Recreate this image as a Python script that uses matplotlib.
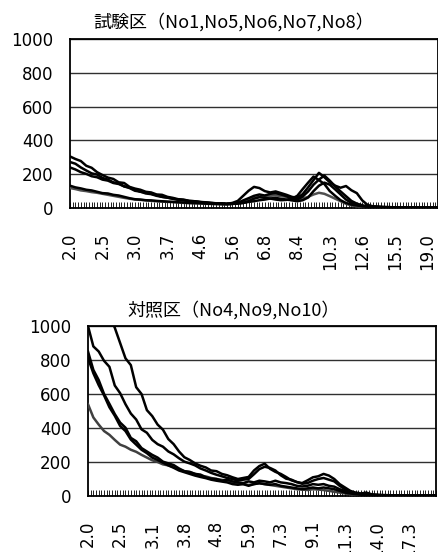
import numpy as np
import matplotlib
matplotlib.use('Agg')
import matplotlib.pyplot as plt
from matplotlib.ticker import MultipleLocator

plt.rcParams['font.family'] = ['DejaVu Sans', 'Noto Sans CJK JP']

## 試験区 (top chart)
top_title = '試験区（No1,No5,No6,No7,No8）'
top_labels = ['2.0', '2.5', '3.0', '3.7', '4.6', '5.6', '6.8', '8.4', '10.3', '12.6', '15.5', '19.0']

t1 = [305, 290, 278, 250, 238, 212, 195, 180, 172, 152, 148, 125, 115, 108, 96, 92, 80, 78, 66, 60,
      52, 50, 42, 40, 36, 34, 29, 28, 25, 24, 25, 28, 30, 36, 40, 46, 50, 56, 50, 46,
      48, 56, 72, 112, 150, 186, 165, 142, 100, 72, 46, 30, 20, 15, 10, 8, 7, 6, 5, 5,
      4, 4, 3, 3, 3, 2, 2, 2, 2]
t2 = [272, 262, 240, 222, 205, 198, 178, 168, 152, 146, 128, 118, 102, 97, 86, 82, 72, 66, 61, 56,
      48, 46, 40, 38, 35, 31, 30, 27, 28, 25,
      30, 42, 72, 102, 125, 118, 100, 92, 98, 88, 78, 66, 60, 82, 122, 165, 208, 182, 152, 132,
      120, 130, 105, 88, 45, 18, 10, 8, 6, 5, 4, 3, 3, 3, 2, 2, 2, 2, 2]
t3 = [240, 228, 212, 202, 188, 182, 168, 162, 148, 142, 128, 122, 108, 96, 92, 84, 76, 66, 62, 54,
      50, 46, 42, 40, 35, 33, 30, 28, 26, 25,
      28, 30, 45, 58, 72, 80, 74, 84, 88, 80, 70, 56, 50, 68, 98, 138, 168, 192, 162, 128,
      98, 70, 42, 26, 16, 10, 7, 6, 5, 4, 4, 3, 3, 2, 2, 2, 2, 2, 2]
t4 = [132, 122, 116, 108, 104, 96, 88, 86, 78, 74, 66, 58, 52, 50, 46, 45, 42, 40, 38, 36,
      34, 32, 30, 29, 28, 26, 25, 24, 23, 22,
      24, 26, 30, 40, 55, 64, 60, 56, 60, 54, 50, 45, 40, 46, 62, 100, 132, 150, 138, 110,
      80, 50, 30, 20, 12, 8, 6, 5, 4, 4, 3, 3, 2, 2, 2, 2, 2, 2, 2]
t5 = [118, 112, 104, 100, 94, 90, 84, 78, 72, 66, 60, 55, 50, 48, 45, 42, 40, 38, 36, 35,
      33, 30, 29, 28, 27, 25, 24, 23, 22, 22,
      25, 30, 40, 50, 60, 66, 70, 72, 75, 70, 66, 56, 50, 56, 66, 80, 90, 84, 70, 55,
      40, 25, 15, 10, 8, 6, 5, 4, 4, 3, 3, 3, 2, 2, 2, 2, 2, 2, 2]

## 対照区 (bottom chart)
bot_title = '対照区（No4,No9,No10）'
bot_labels = ['2.0', '2.5', '3.1', '3.8', '4.8', '5.9', '7.3', '9.1', '11.3', '14.0', '17.3']

b1 = [1350, 1280, 1200, 1130, 1060, 990, 900, 810, 770, 640, 600, 505, 470, 420, 390, 335, 305, 262, 228, 212,
      192, 178, 168, 150, 146, 130, 122, 110, 100, 106, 112, 150, 176, 190, 160, 142, 130, 112, 92, 82,
      76, 92, 110, 116, 130, 120, 100, 70, 50, 30, 20, 15, 20, 10, 8, 6, 5, 4, 4, 3,
      3, 2, 2, 2, 2, 2]
b2 = [1000, 880, 850, 795, 760, 650, 605, 540, 485, 450, 392, 372, 330, 305, 290, 262, 245, 222, 202, 192,
      180, 162, 150, 136, 125, 116, 106, 100, 90, 96, 100, 128, 158, 172, 165, 150, 122, 102, 96, 82,
      72, 76, 90, 100, 106, 96, 86, 60, 40, 25, 15, 10, 8, 6, 5, 4, 4, 3, 3, 2,
      2, 2, 2, 2, 2, 2]
b3 = [850, 742, 682, 600, 542, 482, 432, 402, 342, 322, 282, 262, 242, 226, 202, 192, 182, 162, 146, 142,
      130, 126, 110, 102, 100, 90, 96, 86, 80, 76, 86, 80, 90, 86, 80, 90, 80, 76, 70, 60,
      56, 60, 70, 66, 70, 60, 55, 40, 30, 20, 15, 10, 8, 6, 5, 4, 4, 3, 3, 2,
      2, 2, 2, 2, 2, 2]
b4 = [812, 722, 652, 592, 522, 472, 412, 382, 332, 302, 272, 252, 226, 212, 196, 180, 166, 150, 140, 130,
      120, 112, 105, 96, 90, 85, 80, 70, 66, 70, 60, 70, 75, 70, 66, 70, 60, 55, 50, 45,
      40, 45, 50, 45, 50, 45, 40, 30, 20, 15, 10, 8, 6, 5, 4, 4, 3, 3, 2, 2,
      2, 2, 2, 2, 2, 2]
b5 = [540, 462, 420, 382, 360, 330, 302, 290, 272, 260, 242, 226, 210, 200, 186, 180, 170, 156, 146, 140,
      130, 120, 115, 106, 100, 95, 90, 80, 75, 70, 65, 70, 75, 70, 65, 60, 55, 50, 45, 40,
      38, 35, 40, 38, 35, 30, 25, 20, 15, 10, 8, 6, 5, 4, 4, 3, 3, 2, 2, 2,
      2, 2, 2, 2, 2, 2]

label_step = 6

fig = plt.figure(figsize=(4.39, 5.52), dpi=100)
ax1 = fig.add_axes([70/439, 1 - 208/552, 368/439, 169/552])
ax2 = fig.add_axes([88/439, 1 - 496/552, 348/439, 170/552])


def draw(ax, series, colors, labels):
    n = len(series[0])
    x = np.arange(n)
    for s, c in zip(series, colors):
        ax.plot(x, s, color=c, lw=1.8, solid_joinstyle='round', zorder=3)
    ax.set_xlim(0, n - 1)
    ax.set_ylim(0, 1000)
    ax.set_yticks(np.arange(0, 1001, 200))
    ax.yaxis.grid(True, color='#303030', lw=1)
    ax.set_axisbelow(True)
    ax.set_xticks(np.arange(0, len(labels) * label_step, label_step))
    ax.set_xticklabels(labels, rotation=90, va='top', ha='center')
    ax.xaxis.set_minor_locator(MultipleLocator(0.5))
    ax.tick_params(axis='x', which='both', direction='in', length=4.5, width=0.7,
                   color='#202020', pad=18, labelsize=12)
    ax.tick_params(axis='y', length=0, pad=12, labelsize=12)
    for sp in ax.spines.values():
        sp.set_linewidth(1.3)
        sp.set_color('black')


draw(ax1, [t5, t4, t3, t1, t2], ['#505050', 'black', 'black', 'black', 'black'], top_labels)
draw(ax2, [b5, b4, b3, b2, b1], ['#404040', 'black', 'black', 'black', 'black'], bot_labels)

fig.text(234/439, 1 - 22/552, top_title, ha='center', va='center', fontsize=13,
         family=['Noto Sans CJK JP'])
fig.text(234/439, 1 - 310/552, bot_title, ha='center', va='center', fontsize=13,
         family=['Noto Sans CJK JP'])

fig.savefig('out.png', dpi=100)
